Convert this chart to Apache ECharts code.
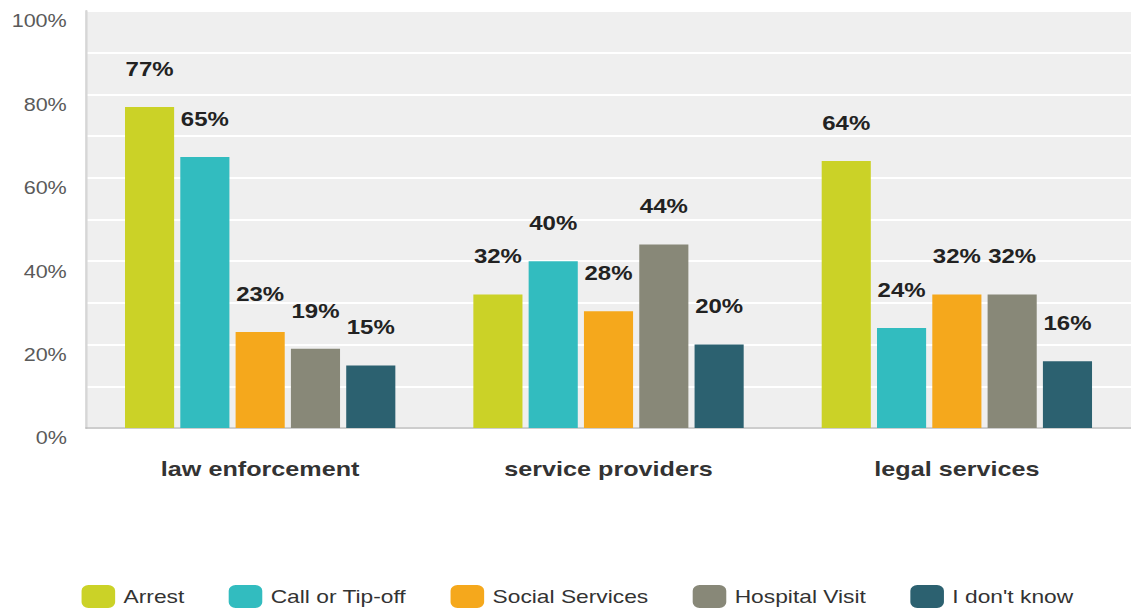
<!DOCTYPE html>
<html>
<head>
<meta charset="utf-8">
<script src="https://cdn.jsdelivr.net/npm/echarts@6/dist/echarts.min.js"></script>
<style>
  html, body { margin: 0; padding: 0; background: #ffffff; overflow: hidden; }
  #chart {
    width: 943px;
    height: 612px;
    transform: scaleX(1.1994);
    transform-origin: 0 0;
  }
</style>
</head>
<body>
<div id="chart"></div>
<script>
// Who respondents would contact, by group
const categories = ['law enforcement', 'service providers', 'legal services'];
const seriesNames = ['Arrest', 'Call or Tip-off', 'Social Services', 'Hospital Visit', "I don't know"];
const arrest = [77, 32, 64];
const callOrTipOff = [65, 40, 24];
const socialServices = [23, 28, 32];
const hospitalVisit = [19, 44, 32];
const dontKnow = [15, 20, 16];
const seriesColors = ['#cbd227', '#32bcbf', '#f5a81c', '#888878', '#2c6170'];

const seriesValues = [arrest, callOrTipOff, socialServices, hospitalVisit, dontKnow];

const chart = echarts.init(document.getElementById('chart'), null, { renderer: 'svg' });

const baseFont = '"Liberation Sans", Arial, sans-serif';

chart.setOption({
  animation: false,
  backgroundColor: '#ffffff',
  color: seriesColors,
  grid: {
    left: 71.7,
    right: -4.2,
    top: 11,
    bottom: 184,
    show: true,
    backgroundColor: '#efefef',
    borderWidth: 0
  },
  legend: {
    data: seriesNames,
    left: 63,
    top: 580,
    icon: 'roundRect',
    itemWidth: 28,
    itemHeight: 23,
    itemGap: 37,
    textStyle: {
      fontFamily: baseFont,
      fontSize: 19,
      color: '#333333',
      padding: [0, 0, 0, 2]
    }
  },
  xAxis: {
    type: 'category',
    data: categories,
    axisLine: { show: true, lineStyle: { color: '#bdbdbd', width: 1.5 } },
    axisTick: { show: false },
    axisLabel: {
      margin: 30,
      fontFamily: baseFont,
      fontSize: 21,
      fontWeight: 'bold',
      color: '#333333'
    }
  },
  yAxis: {
    type: 'value',
    min: 0,
    max: 100,
    interval: 20,
    axisLine: { show: true, lineStyle: { color: '#d6d6d6', width: 2 } },
    axisTick: { show: false },
    axisLabel: {
      formatter: '{value}%',
      margin: 16,
      fontFamily: baseFont,
      fontSize: 18,
      color: '#5a5a5a',
      verticalAlign: 'top',
      lineHeight: 20
    },
    splitLine: { show: true, lineStyle: { color: '#ffffff', width: 2 } },
    minorTick: { show: false, splitNumber: 2 },
    minorSplitLine: { show: true, lineStyle: { color: '#ffffff', width: 2 } }
  },
  series: seriesNames.map(function (name, i) {
    return {
      name: name,
      type: 'bar',
      data: seriesValues[i],
      barWidth: '14.1%',
      barGap: '12.6%',
      itemStyle: { color: seriesColors[i] },
      label: {
        show: true,
        position: 'top',
        distance: 28,
        formatter: '{c}%',
        fontFamily: baseFont,
        fontSize: 20,
        fontWeight: 'bold',
        color: '#222222'
      }
    };
  })
});
</script>
</body>
</html>
